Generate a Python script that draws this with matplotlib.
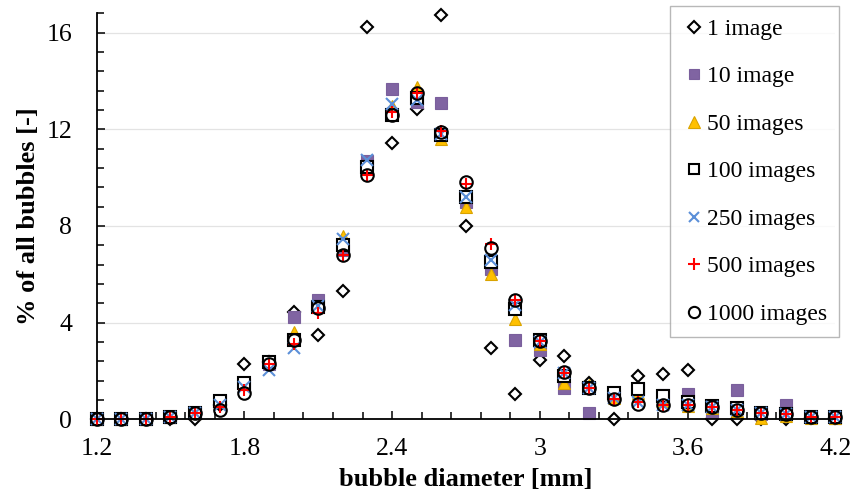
import matplotlib
matplotlib.use('Agg')
import matplotlib.pyplot as plt
from matplotlib.ticker import MultipleLocator

plt.rcParams['font.family'] = ['Liberation Serif', 'DejaVu Serif']

diam = [1.2, 1.3, 1.4, 1.5, 1.6, 1.7, 1.8, 1.9, 2.0, 2.1, 2.2, 2.3, 2.4, 2.5, 2.6, 2.7,
        2.8, 2.9, 3.0, 3.1, 3.2, 3.3, 3.4, 3.5, 3.6, 3.7, 3.8, 3.9, 4.0, 4.1, 4.2]

img1 = [0, 0, 0, 0, 0, 0.6, 2.3, 2.35, 4.45, 3.5, 5.3, 16.25, 11.45, 12.85, 16.75, 8.0,
        2.95, 1.03, 2.45, 2.6, 1.5, 0.0, 1.8, 1.87, 2.03, 0, 0, 0, 0, 0.05, 0.05]
img10 = [0, 0, 0, 0.1, 0.25, 0.75, 1.45, 2.3, 4.25, 4.95, 7.0, 10.7, 13.65, 13.15, 13.1, 9.0,
         6.2, 3.3, 2.85, 1.3, 0.27, 0.95, 1.25, 1.0, 1.05, 0.3, 1.2, 0.2, 0.6, 0.1, 0.05]
img50 = [0, 0, 0, 0.1, 0.25, 0.8, 1.55, 2.35, 3.6, 4.7, 7.6, 10.5, 12.95, 13.75, 11.6, 8.8,
         6.0, 4.15, 3.1, 1.5, 1.4, 0.9, 1.1, 0.75, 0.55, 0.45, 0.35, 0.05, 0.15, 0.05, 0.05]
img100 = [0, 0, 0, 0.1, 0.25, 0.75, 1.5, 2.35, 3.3, 4.65, 7.2, 10.45, 12.6, 13.3, 11.75, 9.2,
          6.5, 4.55, 3.3, 1.8, 1.3, 1.1, 1.25, 0.95, 0.7, 0.55, 0.45, 0.25, 0.2, 0.1, 0.1]
img250 = [0, 0, 0, 0.1, 0.25, 0.6, 1.35, 2.05, 2.95, 4.7, 7.45, 10.75, 13.05, 13.2, 11.8, 9.2,
          6.6, 4.75, 3.2, 1.9, 1.3, 0.9, 0.7, 0.6, 0.6, 0.5, 0.4, 0.25, 0.2, 0.1, 0.1]
img500 = [0, 0, 0, 0.1, 0.25, 0.5, 1.2, 2.3, 3.1, 4.4, 6.8, 10.1, 12.7, 13.5, 11.95, 9.75,
          7.25, 4.95, 3.25, 1.9, 1.3, 0.85, 0.7, 0.6, 0.6, 0.5, 0.4, 0.25, 0.2, 0.1, 0.1]
img1000 = [0, 0, 0, 0.1, 0.25, 0.4, 1.1, 2.3, 3.3, 4.6, 6.8, 10.1, 12.6, 13.5, 11.9, 9.8,
           7.1, 4.95, 3.25, 1.95, 1.3, 0.85, 0.65, 0.6, 0.6, 0.5, 0.4, 0.25, 0.2, 0.1, 0.1]

fig = plt.figure(figsize=(8.55, 4.95), dpi=100)
ax = fig.add_axes([0.113, 0.153, 0.864, 0.82])

kw = dict(linestyle='none', clip_on=False)
ax.plot(diam, img1, marker='D', ms=6.5, mfc='white', mec='black', mew=1.5, label='1 image', **kw)
ax.plot(diam, img10, marker='s', ms=8.5, mfc='#8064A2', mec='#7A5F9C', mew=0.8, label='10 image', **kw)
ax.plot(diam, img50, marker='^', ms=9, mfc='#FFC000', mec='#D9A300', mew=0.8, label='50 images', **kw)
ax.plot(diam, img100, marker='s', ms=8, mfc='white', mec='black', mew=1.5, label='100 images', **kw)
ax.plot(diam, img250, marker='x', ms=8, mec='#5B8FD8', mew=1.5, label='250 images', **kw)
ax.plot(diam, img500, marker='+', ms=9, mec='#FF0000', mew=1.5, label='500 images', **kw)
ax.plot(diam, img1000, marker='o', ms=9, mfc='none', mec='black', mew=1.5, label='1000 images', **kw)

ax.set_xlim(1.2, 4.2)
ax.set_ylim(0, 16.8)
ax.xaxis.set_major_locator(MultipleLocator(0.6))
ax.xaxis.set_minor_locator(MultipleLocator(0.12))
ax.yaxis.set_major_locator(MultipleLocator(4))
ax.yaxis.set_minor_locator(MultipleLocator(0.8))
ax.set_xticks([1.2, 1.8, 2.4, 3.0, 3.6, 4.2])
ax.set_xticklabels(['1.2', '1.8', '2.4', '3', '3.6', '4.2'])

ax.grid(axis='y', which='major', color='#E3E3E3', lw=0.9)
ax.set_axisbelow(True)
for s in ['top', 'right']:
    ax.spines[s].set_visible(False)
for s in ['left', 'bottom']:
    ax.spines[s].set_linewidth(1.3)

ax.tick_params(which='both', direction='in', labelsize=18.5, width=1.1)
ax.tick_params(which='major', length=6)
ax.tick_params(which='minor', length=5)
ax.tick_params(axis='x', which='major', pad=13.5)
ax.tick_params(axis='y', which='major', pad=17.5)

ax.set_xlabel('bubble diameter [mm]', fontsize=19, fontweight='bold', labelpad=6)
ax.set_ylabel('% of all bubbles [-]', fontsize=19, fontweight='bold', labelpad=5)

leg = ax.legend(loc='upper right', bbox_to_anchor=(0.981, 0.987), bbox_transform=fig.transFigure,
                fontsize=17, frameon=True, fancybox=False, labelspacing=1.1, markerscale=0.9,
                handletextpad=0.05, handlelength=1.0, borderpad=0.5, borderaxespad=0)
leg.get_frame().set_edgecolor('#A6A6A6')
leg.get_frame().set_linewidth(1.0)

fig.savefig('out.png', dpi=100)
